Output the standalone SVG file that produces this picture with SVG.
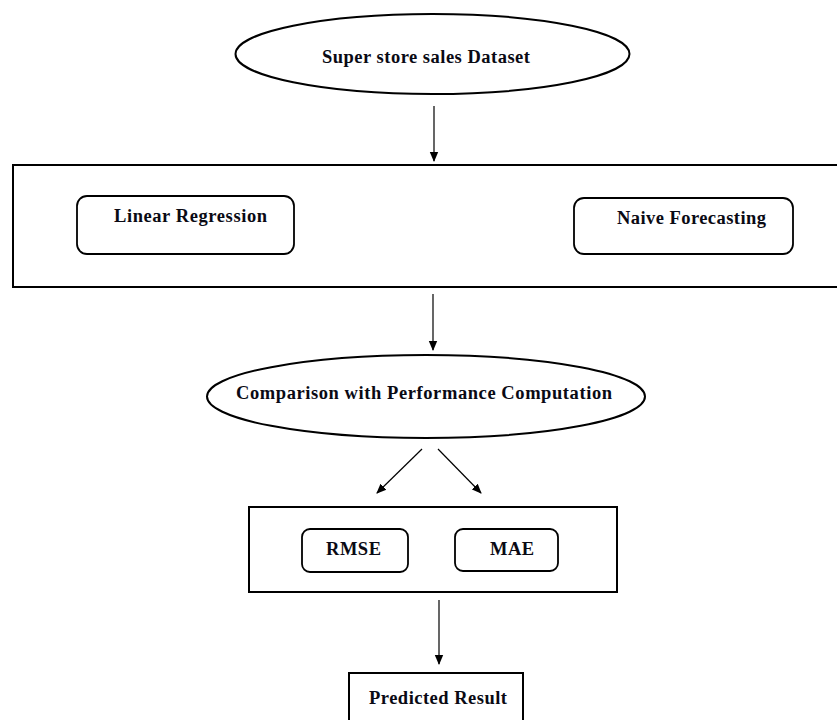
<svg xmlns="http://www.w3.org/2000/svg" width="837" height="720" viewBox="0 0 837 720">
<defs>
<marker id="arr" markerWidth="10" markerHeight="10" refX="9" refY="5" orient="auto" markerUnits="userSpaceOnUse">
<path d="M0,0.8 L10,5 L0,9.2 Z" fill="#000"/>
</marker>
<style>
.sh{fill:#fff;stroke:#000;stroke-width:2}
.in{fill:#fff;stroke:#000;stroke-width:1.8}
.t{font-family:"Liberation Serif","Times New Roman",serif;font-weight:bold;font-size:18.5px;fill:#0a0a14}
.c{stroke:#000;stroke-width:1.2;fill:none;marker-end:url(#arr)}
</style>
</defs>
<rect width="837" height="720" fill="#fff"/>
<g id="dataset">
<ellipse class="sh" cx="432.5" cy="54" rx="197" ry="40"/>
<text class="t" x="322" y="63" textLength="208">Super store sales Dataset</text>
</g>
<g id="models">
<rect class="sh" x="13" y="165" width="830" height="122"/>
</g>
<g id="linear">
<rect class="in" x="77" y="196" width="217" height="58" rx="10"/>
<text class="t" x="114" y="222" textLength="153">Linear Regression</text>
</g>
<g id="naive">
<rect class="in" x="574" y="198" width="219" height="56" rx="10"/>
<text class="t" x="617" y="224" textLength="149">Naive Forecasting</text>
</g>
<g id="comparison">
<ellipse class="sh" cx="426" cy="396.5" rx="219" ry="41.5"/>
<text class="t" x="236" y="399" textLength="376">Comparison with Performance Computation</text>
</g>
<g id="metrics">
<rect class="sh" x="249" y="507" width="368" height="85"/>
</g>
<g id="rmse">
<rect class="in" x="302" y="529" width="106" height="43" rx="8"/>
<text class="t" x="326" y="555" textLength="55">RMSE</text>
</g>
<g id="mae">
<rect class="in" x="455" y="529" width="103" height="42" rx="8"/>
<text class="t" x="490" y="555" textLength="44">MAE</text>
</g>
<g id="result">
<rect class="sh" x="349" y="673" width="174" height="60"/>
<text class="t" x="369" y="704" textLength="138">Predicted Result</text>
</g>
<g id="connectors">
<line class="c" x1="434" y1="106" x2="434" y2="161"/>
<line class="c" x1="433" y1="294" x2="433" y2="350"/>
<line class="c" x1="422" y1="449" x2="377" y2="493"/>
<line class="c" x1="438" y1="449" x2="481" y2="493"/>
<line class="c" x1="439" y1="600" x2="439" y2="664"/>
</g>
</svg>
